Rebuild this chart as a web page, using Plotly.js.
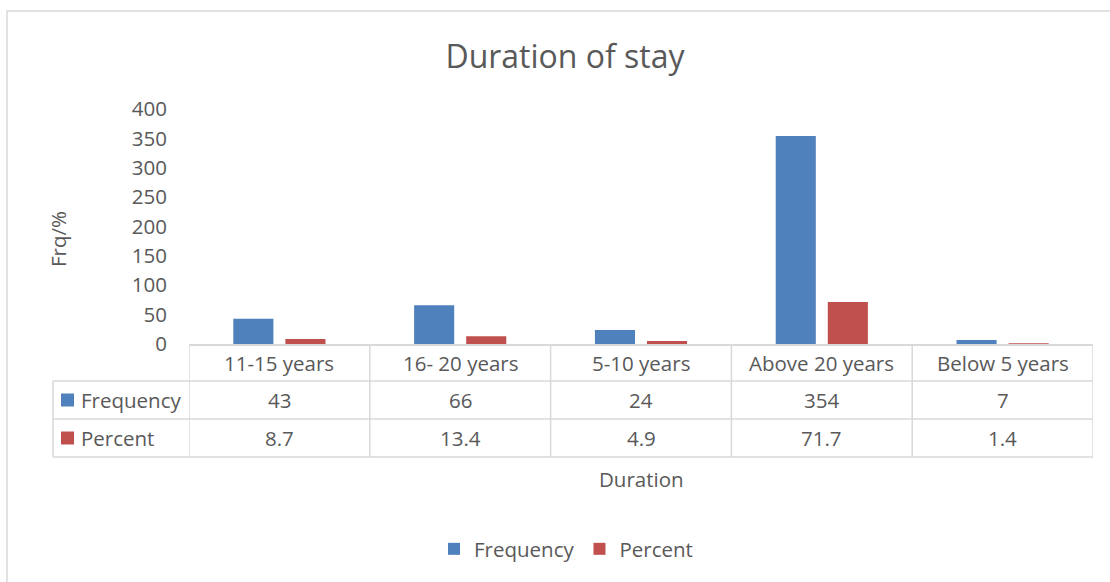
<!DOCTYPE html>
<html>
<head>
<meta charset="utf-8">
<script src="https://cdn.plot.ly/plotly-3.0.1.min.js"></script>
<style>html,body{margin:0;padding:0;background:#fff;}#chart{width:1110px;height:582px;}</style>
</head>
<body>
<div id="chart"></div>
<script>
var categories = ["11-15 years", "16- 20 years", "5-10 years", "Above 20 years", "Below 5 years"];
var frequency = [43, 66, 24, 354, 7];
var percent = [8.7, 13.4, 4.9, 71.7, 1.4];
var seriesNames = ["Frequency", "Percent"];
var seriesColors = ["#4F81BD", "#C0504D"];
var yTicks = [0, 50, 100, 150, 200, 250, 300, 350, 400];

var W = 1110, H = 582;
var L = 189, R = 17, T = 109, B = 238;
var pw = W - L - R, ph = H - T - B;
function px2x(px) { return (px - L) / pw; }
function py2y(py) { return (H - B - py) / ph; }

var textColor = "#595959";
var gridColor = "#D9D9D9";
var font = "'Open Sans', 'Noto Sans', sans-serif";
var fs = 20.5;

var traces = [
  {type: "bar", name: seriesNames[0], x: categories, y: frequency, marker: {color: seriesColors[0]}, hoverinfo: "x+y"},
  {type: "bar", name: seriesNames[1], x: categories, y: percent, marker: {color: seriesColors[1]}, hoverinfo: "x+y"}
];

var rowLines = [344, 381, 419, 457];
var tableLeft = 53;
var shapes = [];
var annotations = [];

// chart border (left and top visible)
shapes.push({type: "rect", xref: "paper", yref: "paper", x0: px2x(7), x1: px2x(1120), y0: py2y(11), y1: py2y(600),
  line: {color: gridColor, width: 1.5}, fillcolor: "rgba(0,0,0,0)", layer: "below"});

// vertical column lines
for (var i = 0; i <= categories.length; i++) {
  shapes.push({type: "line", xref: "x", yref: "paper", x0: i - 0.5, x1: i - 0.5, y0: py2y(rowLines[0]), y1: py2y(rowLines[3]),
    line: {color: gridColor, width: 1.5}});
}
// horizontal row lines
for (var r = 1; r < rowLines.length; r++) {
  shapes.push({type: "line", xref: "paper", yref: "paper", x0: px2x(tableLeft), x1: 1, y0: py2y(rowLines[r]), y1: py2y(rowLines[r]),
    line: {color: gridColor, width: 1.5}});
}
// left line of legend-key column
shapes.push({type: "line", xref: "paper", yref: "paper", x0: px2x(tableLeft), x1: px2x(tableLeft), y0: py2y(rowLines[1]), y1: py2y(rowLines[3]),
  line: {color: gridColor, width: 1.5}});

// header row labels
categories.forEach(function (c, i) {
  annotations.push({xref: "x", yref: "paper", x: i, y: py2y((rowLines[0] + rowLines[1]) / 2), text: c, showarrow: false,
    xanchor: "center", yanchor: "middle", font: {size: fs, color: textColor, family: font}});
});

// data rows
var rows = [frequency, percent];
rows.forEach(function (vals, r) {
  var yc = py2y((rowLines[r + 1] + rowLines[r + 2]) / 2);
  // key square
  shapes.push({type: "rect", xref: "paper", yref: "paper", x0: px2x(61), x1: px2x(74), y0: yc - 6.5 / ph, y1: yc + 6.5 / ph,
    fillcolor: seriesColors[r], line: {width: 0}});
  annotations.push({xref: "paper", yref: "paper", x: px2x(79), y: yc, text: seriesNames[r], showarrow: false,
    xanchor: "left", yanchor: "middle", font: {size: fs, color: textColor, family: font}});
  vals.forEach(function (v, i) {
    annotations.push({xref: "x", yref: "paper", x: i, y: yc, text: String(v), showarrow: false,
      xanchor: "center", yanchor: "middle", font: {size: fs, color: textColor, family: font}});
  });
});

// axis titles
annotations.push({xref: "paper", yref: "paper", x: px2x(58), y: py2y(239), text: "Frq/%", textangle: -90, showarrow: false,
  xanchor: "center", yanchor: "middle", font: {size: fs, color: textColor, family: font}});
annotations.push({xref: "paper", yref: "paper", x: 0.5, y: py2y(479), text: "Duration", showarrow: false,
  xanchor: "center", yanchor: "middle", font: {size: fs, color: textColor, family: font}});

var layout = {
  width: W, height: H,
  margin: {l: L, r: R, t: T, b: B, pad: 0},
  paper_bgcolor: "#fff", plot_bgcolor: "#fff",
  font: {family: font, size: fs, color: textColor},
  title: {text: "Duration of stay", x: 565 / W, xref: "container", y: 1 - 57 / H, yref: "container",
    xanchor: "center", yanchor: "middle", font: {size: 32, color: textColor, family: font}},
  barmode: "group", bargap: 0.424, bargroupgap: 0.23,
  xaxis: {type: "category", showticklabels: false, ticks: "", showgrid: false, zeroline: false,
    showline: true, linecolor: gridColor, linewidth: 1.5, fixedrange: true, range: [-0.5, categories.length - 0.5]},
  yaxis: {range: [0, 400], tickvals: yTicks, ticktext: yTicks.map(String), showgrid: false, zeroline: false, showline: false,
    ticks: "outside", ticklen: 17, tickcolor: "rgba(0,0,0,0)", tickfont: {size: fs, color: textColor, family: font}, fixedrange: true},
  showlegend: true,
  legend: {orientation: "h", x: px2x(566), xanchor: "center", y: py2y(549), yanchor: "middle",
    font: {size: fs, color: textColor, family: font}, bgcolor: "rgba(0,0,0,0)"},
  shapes: shapes,
  annotations: annotations
};

Plotly.newPlot("chart", traces, layout, {displayModeBar: false, staticPlot: true});
</script>
</body>
</html>
